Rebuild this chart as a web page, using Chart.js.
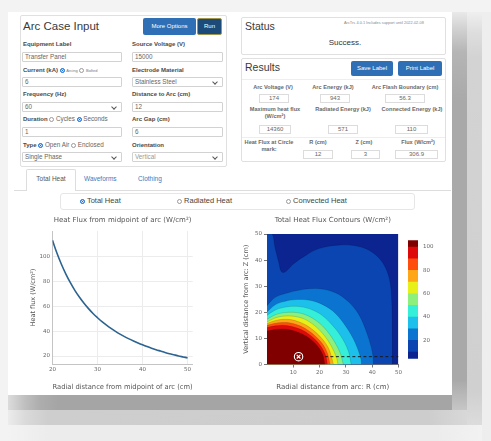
<!DOCTYPE html>
<html>
<head>
<meta charset="utf-8">
<script src="https://cdn.jsdelivr.net/npm/chart.js@4.4.1/dist/chart.umd.min.js"></script>
<style>
* { box-sizing: border-box; }
html, body { margin: 0; padding: 0; }
body { width: 491px; height: 441px; position: relative; overflow: hidden; background: #f3f3f3; font-family: "Liberation Sans", Arial, sans-serif; color: #333; }
.a { position: absolute; white-space: nowrap; }
.panel { position: absolute; border: 1px solid #e0e0e0; border-radius: 2px; background: #fff; }
.lbl { position: absolute; font-size: 6px; font-weight: bold; color: #4a4a4a; line-height: 8px; white-space: nowrap; }
.lbl .n { font-weight: normal; color: #666; font-size: 6.3px; }
.lbl .t { font-weight: normal; color: #777; font-size: 4px; }
.inp { position: absolute; height: 10px; border: 1px solid #d2d2d2; border-radius: 1px; font-size: 6.3px; line-height: 8px; color: #666; padding-left: 2px; white-space: nowrap; }
.sel::after { content: ""; position: absolute; right: 5px; top: 1.5px; width: 3px; height: 3px; border-right: 1px solid #555; border-bottom: 1px solid #555; transform: rotate(45deg); }
.btn { position: absolute; background: #2f6fb6; color: #fff; border-radius: 2px; font-size: 6px; text-align: center; white-space: nowrap; }
.rd { display: inline-block; width: 5px; height: 5px; border: 1px solid #9a9a9a; border-radius: 50%; vertical-align: -1px; background: #fff; }
.rd.on { background: #1f74d9; border-color: #1f74d9; box-shadow: inset 0 0 0 0.8px #fff; }
.box { position: absolute; height: 9px; border: 1px solid #dcdcdc; font-size: 6px; line-height: 7px; color: #666; text-align: center; }
.rl { position: absolute; font-size: 5.6px; font-weight: bold; color: #6a6a6a; text-align: center; line-height: 7px; white-space: nowrap; transform: translateX(-50%); }
canvas { position: absolute; }
</style>
</head>
<body>

<!-- shadow around the page -->
<div class="a" style="left:452px;top:12px;width:15px;height:398px;background:linear-gradient(to bottom,#e9e9e9 0px,#d0d0d0 18px,#b5b5b5 40px,#a9a9a9 90px,#a9a9a9 368px,#b8b8b8 383px,#c6c6c6 100%);"></div>
<div class="a" style="left:467px;top:12px;width:15px;height:413px;background:linear-gradient(to bottom,#efefef 0px,#dedede 20px,#d3d3d3 45px,#d0d0d0 380px,#dcdcdc 100%);"></div>
<div class="a" style="left:482px;top:12px;width:9px;height:429px;background:#eeeeee;"></div>
<div class="a" style="left:8px;top:395px;width:444px;height:15px;background:linear-gradient(to right,#dcdcdc 0px,#bfbfbf 17px,#adadad 32px,#a5a5a5 50px,#a5a5a5 100%);"></div>
<div class="a" style="left:8px;top:410px;width:459px;height:15px;background:linear-gradient(to right,#ececec 0px,#dadada 17px,#cecece 40px,#cdcdcd 420px,#d8d8d8 100%);"></div>
<div class="a" style="left:8px;top:425px;width:474px;height:16px;background:linear-gradient(to right,#f3f3f3 0px,#ececec 40px,#ececec 430px,#f2f2f2 100%);"></div>

<!-- page -->
<div class="a" style="left:8px;top:12px;width:444px;height:383px;background:#fff;"></div>

<!-- Arc Case Input -->
<div class="panel" style="left:20px;top:15px;width:207px;height:152px;"></div>
<div class="a" style="left:23px;top:19px;font-size:11.5px;line-height:14px;color:#3a3a3a;">Arc Case Input</div>
<div class="btn" style="left:143px;top:18px;width:53px;height:17px;line-height:17px;">More Options</div>
<div class="btn" style="left:197px;top:18px;width:25px;height:17px;line-height:15px;background:#1c4b79;border:1px solid #a0964c;">Run</div>

<div class="lbl" style="left:23px;top:40px;">Equipment Label</div>
<div class="inp" style="left:22px;top:52px;width:100px;">Transfer Panel</div>
<div class="lbl" style="left:132px;top:40px;">Source Voltage (V)</div>
<div class="inp" style="left:132px;top:52px;width:91px;">15000</div>

<div class="lbl" style="left:23px;top:66px;">Current (kA) <span class="rd on"></span> <span class="t">Arcing</span> <span class="rd"></span> <span class="t">Bolted</span></div>
<div class="inp" style="left:22px;top:77px;width:100px;">6</div>
<div class="lbl" style="left:132px;top:66px;">Electrode Material</div>
<div class="inp sel" style="left:132px;top:77px;width:91px;">Stainless Steel</div>

<div class="lbl" style="left:23px;top:90px;">Frequency (Hz)</div>
<div class="inp sel" style="left:22px;top:102px;width:100px;">60</div>
<div class="lbl" style="left:132px;top:90px;">Distance to Arc (cm)</div>
<div class="inp" style="left:132px;top:102px;width:91px;">12</div>

<div class="lbl" style="left:23px;top:115px;">Duration <span class="rd"></span> <span class="n">Cycles</span> <span class="rd on"></span> <span class="n">Seconds</span></div>
<div class="inp" style="left:22px;top:127px;width:100px;">1</div>
<div class="lbl" style="left:132px;top:115px;">Arc Gap (cm)</div>
<div class="inp" style="left:132px;top:127px;width:91px;">6</div>

<div class="lbl" style="left:23px;top:141px;">Type <span class="rd on"></span> <span class="n">Open Air</span> <span class="rd"></span> <span class="n">Enclosed</span></div>
<div class="inp sel" style="left:22px;top:152px;width:100px;">Single Phase</div>
<div class="lbl" style="left:132px;top:141px;">Orientation</div>
<div class="inp sel" style="left:132px;top:152px;width:91px;color:#999;">Vertical</div>

<!-- Status -->
<div class="panel" style="left:241px;top:17px;width:205px;height:38px;"></div>
<div class="a" style="left:245px;top:20px;font-size:10.5px;line-height:12px;color:#3a3a3a;">Status</div>
<div class="a" style="left:344px;top:20px;font-size:3.9px;line-height:5px;color:#888;">ArcTrs 4.0.1 Includes support until 2022-02-08</div>
<div class="a" style="left:345px;top:38px;font-size:8px;line-height:10px;color:#333;transform:translateX(-50%);">Success.</div>

<!-- Results -->
<div class="panel" style="left:241px;top:58px;width:205px;height:104px;"></div>
<div class="a" style="left:245px;top:61px;font-size:10.5px;line-height:12px;color:#3a3a3a;">Results</div>
<div class="btn" style="left:351px;top:61px;width:42px;height:15px;line-height:15px;">Save Label</div>
<div class="btn" style="left:398px;top:61px;width:44px;height:15px;line-height:15px;">Print Label</div>
<div class="a" style="left:242px;top:79px;width:203px;height:1px;background:#eeeeee;"></div>

<div class="rl" style="left:273px;top:84px;">Arc Voltage (V)</div>
<div class="rl" style="left:333px;top:84px;">Arc Energy (kJ)</div>
<div class="rl" style="left:405px;top:84px;">Arc Flash Boundary (cm)</div>
<div class="box" style="left:259px;top:94px;width:30px;">174</div>
<div class="box" style="left:320px;top:94px;width:30px;">943</div>
<div class="box" style="left:385px;top:94px;width:40px;">56.3</div>

<div class="rl" style="left:275px;top:106px;">Maximum heat flux<br>(W/cm²)</div>
<div class="rl" style="left:343px;top:106px;">Radiated Energy (kJ)</div>
<div class="rl" style="left:412px;top:106px;">Connected Energy (kJ)</div>
<div class="box" style="left:259px;top:125px;width:32px;">14360</div>
<div class="box" style="left:328px;top:125px;width:30px;">571</div>
<div class="box" style="left:395px;top:125px;width:33px;">110</div>
<div class="a" style="left:242px;top:137px;width:203px;height:1px;background:#eeeeee;"></div>

<div class="rl" style="left:269px;top:139px;">Heat Flux at Circle<br>mark:</div>
<div class="rl" style="left:318px;top:139px;">R (cm)</div>
<div class="rl" style="left:364px;top:139px;">Z (cm)</div>
<div class="rl" style="left:418px;top:139px;">Flux (W/cm²)</div>
<div class="box" style="left:303px;top:150px;width:30px;">12</div>
<div class="box" style="left:351px;top:150px;width:29px;">3</div>
<div class="box" style="left:395px;top:150px;width:43px;">306.9</div>

<!-- tabs -->
<div class="a" style="left:14px;top:190px;width:437px;height:1px;background:#dddddd;"></div>
<div class="a" style="left:26px;top:169px;width:50px;height:22px;background:#fff;border:1px solid #dddddd;border-bottom:none;border-radius:2px 2px 0 0;"></div>
<div class="a" style="left:51px;top:175px;font-size:6.5px;line-height:8px;color:#555;transform:translateX(-50%);">Total Heat</div>
<div class="a" style="left:84px;top:175px;font-size:6.5px;line-height:8px;color:#3a7bbf;">Waveforms</div>
<div class="a" style="left:138px;top:175px;font-size:6.5px;line-height:8px;color:#3a7bbf;">Clothing</div>

<div class="a" style="left:60px;top:193px;width:355px;height:17px;border:1px solid #e6e6e6;border-radius:3px;"></div>
<div class="a" style="left:80px;top:196px;font-size:7.5px;line-height:10px;color:#444;"><span class="rd on"></span> Total Heat</div>
<div class="a" style="left:177px;top:196px;font-size:7.5px;line-height:10px;color:#444;"><span class="rd"></span> Radiated Heat</div>
<div class="a" style="left:286px;top:196px;font-size:7.5px;line-height:10px;color:#444;"><span class="rd"></span> Convected Heat</div>

<!-- charts -->
<canvas id="fluxChart" width="222" height="183" style="left:12px;top:211px;"></canvas>
<canvas id="contourChart" width="166" height="183" style="left:238px;top:211px;"></canvas>
<canvas id="colorbarChart" width="40" height="135" style="left:404px;top:232px;"></canvas>

<script>
Chart.defaults.font.family = "'DejaVu Sans', Verdana, sans-serif";
Chart.defaults.color = "#555";

// heat flux from midpoint of arc
const radialDistance = [20, 21, 22, 23, 24, 25, 26, 27, 28, 29, 30, 31, 32, 33, 34, 35,
  36, 37, 38, 39, 40, 41, 42, 43, 44, 45, 46, 47, 48, 49, 50];
const heatFlux = [113.0, 102.6, 93.6, 85.7, 78.8, 72.6, 67.2, 62.4, 58.1, 54.2, 50.8, 47.6, 44.8, 42.2, 39.8, 37.6,
  35.6, 33.8, 32.1, 30.5, 29.0, 27.6, 26.3, 25.1, 24.0, 22.9, 21.9, 21.0, 20.1, 19.3, 18.5];
const fluxXTicks = [20, 30, 40, 50];
const fluxYTicks = [20, 40, 60, 80, 100];

// contour boundaries [R, Z] for each heat flux level (W/cm²)
const contourLevels = [100, 90, 80, 70, 60, 50, 40, 30, 20, 10];
const heat100 = [[0, 12.8], [3, 13.4], [6, 13.6], [9, 13.2], [12, 12.3], [15, 10.8], [18, 8.4], [20, 6], [21.3, 3.5], [22, 0]];
const heat90 = [[0, 14.2], [3, 14.8], [6, 15], [9, 14.7], [12, 13.8], [15, 12.3], [18, 9.9], [20.5, 7], [22.3, 3.5], [23, 0]];
const heat80 = [[0, 15], [3, 15.8], [6, 16.1], [9, 15.9], [12, 15], [15, 13.5], [18, 11.2], [21, 8], [23, 4.2], [24, 0]];
const heat70 = [[0, 15.7], [3, 16.8], [6, 17.3], [9, 17.2], [12, 16.4], [15, 15], [18, 12.8], [21, 9.8], [23.5, 6], [25.3, 0]];
const heat60 = [[0, 16.3], [3, 17.8], [6, 18.5], [10, 18.5], [14, 17.5], [18, 15], [21.5, 11.5], [24.5, 7], [26.5, 2.5], [27, 0]];
const heat50 = [[0, 17.3], [3, 19], [6, 19.8], [10, 20], [14, 19.3], [18, 17.3], [22, 13.8], [25.5, 9], [28, 4], [29, 0]];
const heat40 = [[0, 18.8], [3, 20.8], [6, 21.8], [10, 22.3], [15, 21.7], [20, 19.5], [24, 16], [28, 11], [31, 5], [32, 0]];
const heat30 = [[0, 20.1], [3, 22.8], [6, 24], [10, 24.8], [15, 24.8], [20, 23.5], [25, 20.5], [29, 16], [33, 9.5], [35.5, 3], [36, 0]];
const heat20 = [[0, 22.5], [2, 24.8], [4, 26.2], [8, 27.5], [14, 28.8], [20, 29], [26, 27.5], [31, 24], [35, 19], [38, 12], [40, 5], [40.5, 0]];
const heat10 = [[0, 50], [2, 50], [3, 45], [4.5, 39], [5.5, 35.5], [7, 35.5], [10, 38.5], [15, 42], [20, 44.5], [28, 45.8],
  [35, 45.2], [40, 43], [44, 39], [46.5, 33], [47.4, 25], [47.7, 12], [47.7, 0]];
const levelColors = ["#800000", "#de0a0a", "#ff4d0d", "#ffa617", "#e8f01a", "#8ef07c", "#35efd8", "#1cc0ea", "#0b74d0", "#0a45b2"];
const belowColor = "#0b2490";
const plotTop = [[0, 50], [50, 50]];
const circleMark = [[12, 3]];
const dashLine = [[22, 3], [50, 3]];
const contourXTicks = [10, 20, 30, 40, 50];
const contourYTicks = [0, 10, 20, 30, 40, 50];

// colour bar
const barEdges = [4.3, 10, 20, 30, 40, 50, 60, 70, 80, 90, 100, 105.8];
const barTicks = [20, 40, 60, 80, 100];

const toXY = pts => pts.map(p => ({ x: p[0], y: p[1] }));
const fixTicks = list => scale => { scale.ticks = list.map(v => ({ value: v })); };

new Chart(document.getElementById("fluxChart"), {
  type: "line",
  data: {
    datasets: [{
      data: radialDistance.map((x, i) => ({ x, y: heatFlux[i] })),
      borderColor: "#2c6390",
      borderWidth: 1.6,
      pointRadius: 0,
      tension: 0.3,
      fill: false
    }]
  },
  options: {
    responsive: false,
    animation: false,
    layout: { padding: { left: 13, right: 41.3, top: 0, bottom: 0 } },
    plugins: {
      legend: { display: false },
      tooltip: { enabled: false },
      title: {
        display: true,
        fullSize: false,
        text: "Heat Flux from midpoint of arc (W/cm²)",
        font: { size: 7, weight: "normal" },
        color: "#555",
        padding: { top: 4.8, bottom: 6.8 }
      }
    },
    scales: {
      x: {
        type: "linear",
        min: 20,
        max: 51.15,
        afterBuildTicks: fixTicks(fluxXTicks),
        afterFit: s => { s.height = 30; },
        ticks: { font: { size: 5.5 }, color: "#666", padding: 2.7, maxRotation: 0 },
        grid: { color: "#ececec", drawTicks: false },
        border: { color: "#c4c4c4" },
        title: {
          display: true,
          text: "Radial distance from midpoint of arc (cm)",
          font: { size: 7 },
          color: "#555",
          padding: { top: 0, bottom: 2.8 }
        }
      },
      y: {
        min: 13.6,
        max: 120.5,
        afterBuildTicks: fixTicks(fluxYTicks),
        afterFit: s => { s.width = 27.5; },
        ticks: { font: { size: 5.5 }, color: "#666", padding: 2.5 },
        grid: { color: "#ececec", drawTicks: false },
        border: { color: "#c4c4c4" },
        title: {
          display: true,
          text: "Heat flux (W/cm²)",
          font: { size: 6.5 },
          color: "#555",
          padding: { top: 4.1, bottom: 0 }
        }
      }
    }
  }
});

const contourSets = [heat100, heat90, heat80, heat70, heat60, heat50, heat40, heat30, heat20, heat10];

new Chart(document.getElementById("contourChart"), {
  type: "scatter",
  data: {
    datasets: [
      {
        data: toXY(circleMark),
        pointStyle: "crossRot",
        pointRadius: 2.6,
        borderColor: "#fff",
        borderWidth: 1.1
      },
      {
        data: toXY(circleMark),
        pointStyle: "circle",
        pointRadius: 4.2,
        borderColor: "#fff",
        borderWidth: 1.1,
        backgroundColor: "rgba(0,0,0,0)"
      },
      {
        data: toXY(dashLine),
        showLine: true,
        borderColor: "#1a1a1a",
        borderWidth: 1,
        borderDash: [3, 2.5],
        pointRadius: 0
      },
      ...contourSets.map((pts, i) => ({
        label: ">= " + contourLevels[i],
        data: toXY(pts),
        showLine: true,
        fill: "origin",
        backgroundColor: levelColors[i],
        borderColor: "rgba(0,0,0,0.28)",
        borderWidth: 0.5,
        pointRadius: 0,
        tension: 0.35
      })),
      {
        data: toXY(plotTop),
        showLine: true,
        fill: "origin",
        backgroundColor: belowColor,
        borderWidth: 0,
        pointRadius: 0
      }
    ]
  },
  options: {
    responsive: false,
    animation: false,
    layout: { padding: { left: 0, right: 5, top: 0, bottom: 0 } },
    plugins: {
      legend: { display: false },
      tooltip: { enabled: false },
      title: {
        display: true,
        fullSize: false,
        text: "Total Heat Flux Contours (W/cm²)",
        font: { size: 7, weight: "normal" },
        color: "#555",
        padding: { top: 4.8, bottom: 9.8 }
      }
    },
    scales: {
      x: {
        type: "linear",
        min: 0,
        max: 50,
        afterBuildTicks: fixTicks(contourXTicks),
        afterFit: s => { s.height = 29.5; },
        ticks: { font: { size: 5.5 }, color: "#666", padding: 2, maxRotation: 0 },
        grid: { drawOnChartArea: false, tickLength: 3, tickColor: "#777" },
        border: { color: "#777" },
        title: {
          display: true,
          text: "Radial distance from arc: R (cm)",
          font: { size: 7 },
          color: "#555",
          padding: { top: 0, bottom: 2.5 }
        }
      },
      y: {
        min: 0,
        max: 50,
        afterBuildTicks: fixTicks(contourYTicks),
        afterFit: s => { s.width = 29; },
        ticks: { font: { size: 5.5 }, color: "#666", padding: 2 },
        grid: { drawOnChartArea: false, tickLength: 3, tickColor: "#777" },
        border: { color: "#777" },
        title: {
          display: true,
          text: "Vertical distance from arc: Z (cm)",
          font: { size: 6.5 },
          color: "#555",
          padding: { top: 4.8, bottom: 0 }
        }
      }
    }
  }
});

const barColors = [belowColor, ...levelColors.slice().reverse()];

new Chart(document.getElementById("colorbarChart"), {
  type: "bar",
  data: {
    labels: [""],
    datasets: barColors.map((c, i) => ({
      data: [[barEdges[i], barEdges[i + 1]]],
      backgroundColor: c,
      borderWidth: 0,
      grouped: false,
      barPercentage: 1,
      categoryPercentage: 1
    }))
  },
  options: {
    responsive: false,
    animation: false,
    layout: { padding: { left: 4, right: 0, top: 6, bottom: 6 } },
    plugins: { legend: { display: false }, tooltip: { enabled: false } },
    scales: {
      x: { display: false },
      y: {
        position: "right",
        min: barEdges[0],
        max: barEdges[barEdges.length - 1],
        afterBuildTicks: fixTicks(barTicks),
        afterFit: s => { s.width = 26; },
        ticks: { font: { size: 5.5 }, color: "#666", padding: 5 },
        grid: { display: false, drawTicks: false, tickLength: 0 },
        border: { display: false }
      }
    }
  }
});
</script>
</body>
</html>
